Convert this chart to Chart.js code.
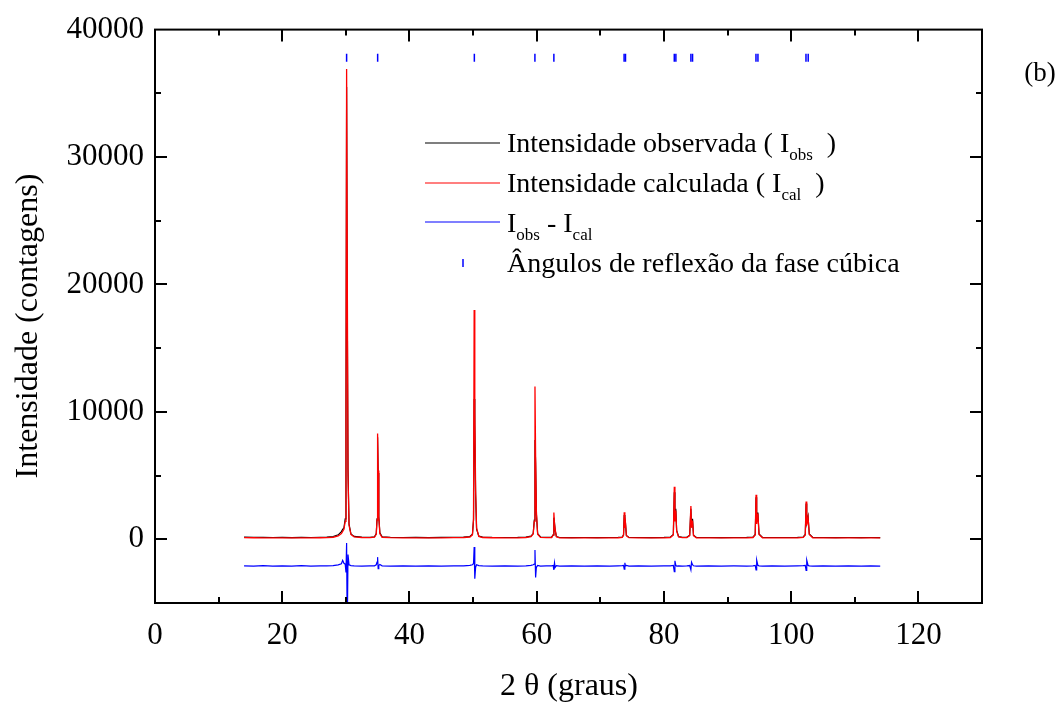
<!DOCTYPE html>
<html>
<head>
<meta charset="utf-8">
<script src="https://cdn.jsdelivr.net/npm/chart.js@4.4.1/dist/chart.umd.min.js"></script>
<style>
    html, body { margin: 0; padding: 0; background: #fff; }
    #wrap { position: relative; width: 1061px; height: 705px; }
</style>
</head>
<body>
<div id="wrap"><canvas id="xrdChart"></canvas></div>
<script>
// ===== DRX - refinamento (fase cúbica) =====

// 2 theta (graus)
const twoTheta = [
    14.0, 15.5, 17.0, 18.5, 20.0, 21.5, 23.0, 24.5, 26.0, 27.0, 28.0,
    28.8, 29.3, 29.5, 29.7, 29.9, 30.02, 30.12, 30.22, 30.34, 30.5, 30.8, 31.3, 32.5, 33.8,
    34.5, 34.78, 34.9, 34.99, 35.08, 35.18, 35.35, 35.7, 37.0, 39.0, 41.0, 43.0, 45.0, 47.0, 48.5,
    49.5, 49.9, 50.07, 50.17, 50.27, 50.4, 50.55, 50.9, 51.5, 53.0, 55.0, 57.0, 58.3,
    59.1, 59.45, 59.62, 59.73, 59.83, 59.95, 60.15, 60.6, 61.5,
    62.35, 62.58, 62.7, 62.8, 62.9, 63.1, 63.6, 65.5, 67.5, 69.5, 71.5, 72.8,
    73.45, 73.65, 73.76, 73.86, 73.96, 74.1, 74.5, 76.0, 78.0, 80.0,
    81.0, 81.48, 81.63, 81.73, 81.87, 82.0, 82.3, 82.9, 83.6,
    84.05, 84.24, 84.34, 84.5, 84.65, 85.1, 87.0, 89.0, 91.0, 93.0,
    94.0, 94.35, 94.48, 94.58, 94.77, 94.95, 95.5, 97.0, 99.0, 101.0,
    101.9, 102.22, 102.35, 102.45, 102.66, 102.85, 103.4, 105.0, 107.0, 109.0, 111.0, 112.5, 114.0
];

// Intensidade observada
const iObs = [
    170, 150, 160, 140, 150, 135, 150, 140, 160, 170, 220,
    350, 600, 780, 900, 1600, 9000, 35500, 19000, 5500, 1200, 420, 230, 170, 150,
    200, 450, 1600, 8000, 5200, 1800, 500, 200, 150, 140, 150, 135, 145, 150, 170,
    220, 400, 1500, 11000, 9000, 3500, 800, 260, 170, 145, 140, 150, 175,
    250, 450, 1500, 7800, 6000, 2000, 450, 180, 150,
    170, 350, 1700, 1300, 700, 220, 140, 135, 140, 135, 140, 150,
    180, 350, 1900, 1000, 1250, 300, 150, 140, 135, 145,
    170, 380, 3700, 1600, 2400, 700, 220, 150, 160,
    320, 2400, 1000, 1600, 320, 150, 140, 135, 140, 145,
    170, 380, 3300, 1400, 2100, 420, 150, 140, 140, 150,
    180, 380, 2800, 1300, 1800, 420, 150, 140, 135, 140, 135, 140, 130
];

// Intensidade calculada
const iCal = [
    130, 120, 115, 110, 108, 105, 105, 110, 120, 130, 160,
    260, 450, 620, 780, 1400, 9600, 36900, 22000, 5000, 1100, 380, 190, 140, 130,
    160, 400, 1500, 8300, 5400, 1700, 430, 160, 125, 115, 112, 110, 115, 125, 140,
    180, 350, 1600, 18000, 10000, 3800, 900, 230, 140, 120, 115, 118, 140,
    210, 420, 1400, 12000, 6500, 2200, 400, 150, 125,
    140, 320, 2100, 1200, 800, 190, 115, 110, 110, 108, 112, 120,
    150, 320, 2125, 900, 1270, 280, 125, 112, 110, 115,
    140, 340, 4120, 1400, 2260, 650, 190, 125, 130,
    290, 2620, 900, 1480, 290, 120, 110, 108, 110, 115,
    140, 340, 3500, 1200, 2020, 380, 120, 110, 108, 115,
    150, 340, 2960, 1100, 1710, 380, 120, 110, 108, 110, 108, 110, 105
];

// I_obs - I_cal (deslocado)
const iDiff = [
    -2080, -2100, -2060, -2110, -2080, -2100, -2070, -2110, -2080, -2090, -2060,
    -2010, -1920, -1650, -1880, -1950, -2600, -300, -7500, -1200, -2000, -2060, -2080, -2100, -2090,
    -2080, -2000, -1800, -1400, -2300, -2050, -1980, -2080, -2110, -2090, -2100, -2080, -2100, -2090, -2080,
    -2050, -2000, -1900, -600, -3100, -2200, -2000, -2060, -2090, -2100, -2080, -2110, -2080,
    -2050, -2000, -1950, -850, -3000, -2200, -2050, -2100, -2090,
    -2080, -2050, -2400, -1850, -2200, -2060, -2100, -2080, -2100, -2090, -2110, -2080,
    -2070, -2050, -2350, -1850, -2100, -2050, -2100, -2080, -2100, -2090,
    -2080, -2050, -2540, -1690, -2050, -2100, -2080, -2100, -2090,
    -2060, -2400, -1800, -2000, -2080, -2100, -2080, -2100, -2090, -2100,
    -2080, -2050, -2400, -1630, -2050, -2080, -2100, -2090, -2100, -2080,
    -2070, -2050, -2450, -1630, -2050, -2080, -2100, -2090, -2100, -2080, -2100, -2090, -2100
];

// Ângulos de reflexão da fase cúbica
const reflections = [30.12, 35.0, 50.2, 59.72, 62.7, 73.74, 73.96, 81.63, 81.88, 84.24, 84.5, 94.47, 94.78, 102.33, 102.68];
const reflectionLevel = 37800;

// Axis ranges and tick labels
const xMin = 0, xMax = 130, xMinorStep = 10;
const yMin = -5000, yMax = 40000, yMinorStep = 5000;
const xTicks = [0, 20, 40, 60, 80, 100, 120];
const yTicks = [0, 10000, 20000, 30000, 40000];

const serif = '"Liberation Serif", "DejaVu Serif", serif';

function toPoints(xs, ys) {
    return xs.map((x, i) => ({ x: x, y: ys[i] }));
}

// Frame with inward ticks on all four sides
const framePlugin = {
    id: 'frame',
    afterDatasetsDraw(chart) {
        const { ctx, chartArea: a, scales } = chart;
        const x = scales.x, y = scales.y;
        ctx.save();
        ctx.strokeStyle = '#000';
        ctx.lineWidth = 2;
        ctx.lineCap = 'butt';
        ctx.beginPath();
        for (let v = xMin + xMinorStep; v < xMax; v += xMinorStep) {
            const px = Math.round(x.getPixelForValue(v));
            const len = xTicks.includes(v) ? 12 : 6;
            ctx.moveTo(px, a.bottom); ctx.lineTo(px, a.bottom - len);
            ctx.moveTo(px, a.top); ctx.lineTo(px, a.top + len);
        }
        for (let v = yMin + yMinorStep; v < yMax; v += yMinorStep) {
            const py = Math.round(y.getPixelForValue(v));
            const len = yTicks.includes(v) ? 12 : 6;
            ctx.moveTo(a.left, py); ctx.lineTo(a.left + len, py);
            ctx.moveTo(a.right, py); ctx.lineTo(a.right - len, py);
        }
        ctx.stroke();
        ctx.strokeRect(a.left, a.top, a.right - a.left, a.bottom - a.top);
        ctx.restore();
    }
};

// Legend (with subscripts), axis titles and panel label
const textPlugin = {
    id: 'texts',
    afterDraw(chart) {
        const ctx = chart.ctx;
        ctx.save();
        ctx.fillStyle = '#000';
        ctx.textBaseline = 'alphabetic';
        ctx.textAlign = 'left';

        const big = '28px ' + serif;
        const small = '17px ' + serif;

        function runs(x, y, parts) {
            parts.forEach(p => {
                ctx.font = p.sub ? small : big;
                ctx.fillText(p.t, x, p.sub ? y + 8 : y);
                x += ctx.measureText(p.t).width;
            });
        }

        function sample(color, y) {
            ctx.strokeStyle = color;
            ctx.lineWidth = 1.2;
            ctx.beginPath();
            ctx.moveTo(425, y); ctx.lineTo(500, y);
            ctx.stroke();
        }

        sample('#000', 143);
        runs(507, 152, [{ t: 'Intensidade observada ( I' }, { t: 'obs', sub: true }, { t: '  )' }]);
        sample('#ff0000', 183);
        runs(507, 192, [{ t: 'Intensidade calculada ( I' }, { t: 'cal', sub: true }, { t: '  )' }]);
        sample('#0000ff', 222);
        runs(507, 232, [{ t: 'I' }, { t: 'obs', sub: true }, { t: ' - I' }, { t: 'cal', sub: true }]);
        ctx.strokeStyle = '#0000ff';
        ctx.lineWidth = 1.5;
        ctx.beginPath();
        ctx.moveTo(463, 259); ctx.lineTo(463, 267);
        ctx.stroke();
        runs(507, 272, [{ t: 'Ângulos de reflexão da fase cúbica' }]);

        // panel label
        ctx.font = '27px ' + serif;
        ctx.textAlign = 'center';
        ctx.fillText('(b)', 1040, 81);

        // axis titles
        ctx.font = '32px ' + serif;
        ctx.fillText('2 θ (graus)', 569, 695);
        ctx.translate(29, 326);
        ctx.rotate(-Math.PI / 2);
        ctx.textBaseline = 'middle';
        ctx.fillText('Intensidade (contagens)', 0, 0);
        ctx.restore();
    }
};

function initializeChart() {
    const ctx = document.getElementById('xrdChart');

    new Chart(ctx, {
        type: 'line',
        data: {
            datasets: [
                {
                    label: 'Intensidade observada',
                    data: toPoints(twoTheta, iObs),
                    borderColor: '#000000',
                    borderWidth: 1.2,
                    pointRadius: 0,
                    tension: 0,
                    order: 2
                },
                {
                    label: 'Intensidade calculada',
                    data: toPoints(twoTheta, iCal),
                    borderColor: '#ff0000',
                    borderWidth: 1.3,
                    pointRadius: 0,
                    tension: 0,
                    order: 1
                },
                {
                    label: 'Iobs - Ical',
                    data: toPoints(twoTheta, iDiff),
                    borderColor: '#0000ff',
                    borderWidth: 1.2,
                    pointRadius: 0,
                    tension: 0,
                    order: 0
                },
                {
                    type: 'scatter',
                    label: 'Ângulos de reflexão da fase cúbica',
                    data: reflections.map(r => ({ x: r, y: reflectionLevel })),
                    showLine: false,
                    pointStyle: 'line',
                    rotation: 90,
                    pointRadius: 4,
                    borderColor: '#0000ff',
                    borderWidth: 1.5,
                    order: 0
                }
            ]
        },
        options: {
            responsive: true,
            maintainAspectRatio: false,
            animation: false,
            events: [],
            layout: { padding: { top: 25, right: 79, left: 0, bottom: 0 } },
            plugins: {
                legend: { display: false },
                tooltip: { enabled: false }
            },
            scales: {
                x: {
                    type: 'linear',
                    min: xMin,
                    max: xMax,
                    bounds: 'data',
                    afterFit: s => { s.height = 102; },
                    afterBuildTicks: s => { s.ticks = xTicks.map(v => ({ value: v })); },
                    grid: { display: false, drawTicks: false },
                    border: { display: false },
                    ticks: {
                        maxRotation: 0,
                        autoSkip: false,
                        padding: 14,
                        color: '#000',
                        font: { family: serif, size: 31 },
                        callback: v => String(v)
                    }
                },
                y: {
                    type: 'linear',
                    min: yMin,
                    max: yMax,
                    bounds: 'data',
                    afterFit: s => { s.width = 155; },
                    afterBuildTicks: s => { s.ticks = yTicks.map(v => ({ value: v })); },
                    grid: { display: false, drawTicks: false },
                    border: { display: false },
                    ticks: {
                        autoSkip: false,
                        padding: 11,
                        color: '#000',
                        font: { family: serif, size: 31 },
                        callback: v => String(v)
                    }
                }
            }
        },
        plugins: [framePlugin, textPlugin]
    });
}

document.addEventListener('DOMContentLoaded', initializeChart);
</script>
</body>
</html>
